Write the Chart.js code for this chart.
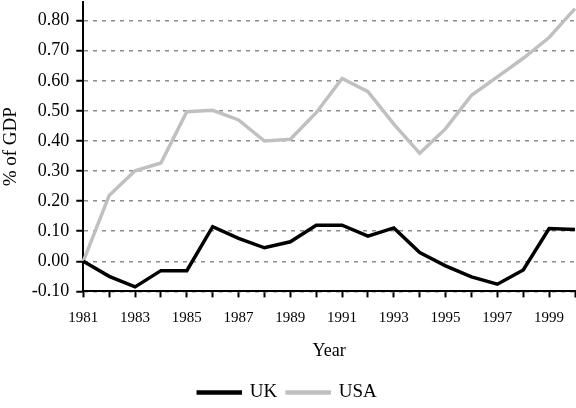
<!DOCTYPE html>
<html>
<head>
<meta charset="utf-8">
<script src="https://cdn.jsdelivr.net/npm/chart.js@4.4.0/dist/chart.umd.min.js"></script>
<style>
    html, body { margin: 0; padding: 0; background: #fff; }
    #wrap { width: 576px; height: 408px; }
</style>
</head>
<body>
<div id="wrap"><canvas id="grafica"></canvas></div>
<script>
const years = ['1981', '1982', '1983', '1984', '1985', '1986', '1987', '1988', '1989', '1990',
    '1991', '1992', '1993', '1994', '1995', '1996', '1997', '1998', '1999', '2000'];
const ukValues = [0.00, -0.05, -0.085, -0.031, -0.031, 0.115, 0.076, 0.045, 0.065, 0.12,
    0.12, 0.084, 0.111, 0.029, -0.015, -0.052, -0.076, -0.029, 0.109, 0.106];
const usaValues = [0.00, 0.219, 0.301, 0.327, 0.497, 0.502, 0.47, 0.40, 0.406, 0.494,
    0.608, 0.564, 0.456, 0.359, 0.441, 0.552, 0.613, 0.675, 0.744, 0.84];
const yTicks = [-0.1, 0, 0.1, 0.2, 0.3, 0.4, 0.5, 0.6, 0.7, 0.8];

const FUENTE = "'Liberation Serif', 'Times New Roman', serif";
Chart.defaults.font.family = FUENTE;
Chart.defaults.font.size = 18;
Chart.defaults.color = '#000';

new Chart(document.getElementById('grafica'), {
    type: 'line',
    data: {
        labels: years,
        datasets: [
            {
                label: 'UK',
                data: ukValues,
                borderColor: '#000000',
                backgroundColor: '#000000',
                borderWidth: 3.5,
                pointRadius: 0,
                tension: 0
            },
            {
                label: 'USA',
                data: usaValues,
                borderColor: '#c0c0c0',
                backgroundColor: '#c0c0c0',
                borderWidth: 3.5,
                pointRadius: 0,
                tension: 0
            }
        ]
    },
    options: {
        responsive: true,
        maintainAspectRatio: false,
        animation: false,
        // bottom negativo para bajar un poco la leyenda
        layout: { padding: { top: 2, right: 1, left: 0, bottom: -4 } },
        plugins: {
            tooltip: { enabled: false },
            legend: {
                position: 'bottom',
                labels: {
                    font: { size: 19 },
                    boxWidth: 42,
                    boxHeight: 1,
                    padding: 10
                }
            }
        },
        scales: {
            x: {
                offset: false,
                afterFit: (axis) => {
                    axis.paddingLeft = 0;
                    axis.paddingRight = 0;
                },
                border: { color: '#000', width: 2 },
                grid: {
                    drawOnChartArea: false,
                    tickColor: '#000',
                    tickLength: 6,
                    tickWidth: 2
                },
                ticks: {
                    autoSkip: false,
                    maxRotation: 0,
                    padding: 12,
                    font: { size: 15 },
                    callback: (val, i) => (i % 2 === 0 ? years[i] : '')
                },
                title: {
                    display: true,
                    text: 'Year',
                    padding: { top: 1, bottom: 11 }
                }
            },
            y: {
                min: -0.1,
                max: 0.862,
                afterBuildTicks: (axis) => {
                    axis.ticks = yTicks.map(v => ({ value: v }));
                },
                afterFit: (axis) => {
                    axis.paddingTop = 0;
                    axis.paddingBottom = 0;
                },
                border: { color: '#000', width: 2, dash: [4, 5] },
                grid: {
                    color: '#8c8c8c',
                    lineWidth: 1.5,
                    tickColor: '#000',
                    tickLength: 7,
                    tickWidth: 2,
                    tickBorderDash: []
                },
                ticks: {
                    padding: 7,
                    callback: (v) => Number(v).toFixed(2)
                },
                title: {
                    display: true,
                    text: '% of GDP',
                    font: { size: 19 },
                    padding: { top: 0, bottom: 2 }
                }
            }
        }
    }
});
</script>
</body>
</html>
